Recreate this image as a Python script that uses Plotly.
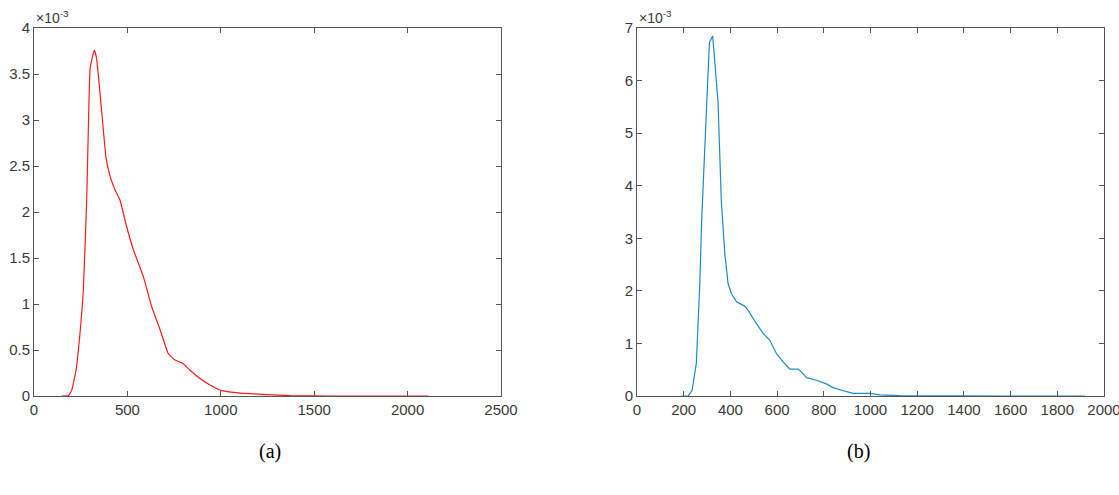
import plotly.graph_objects as go

# Panel (a) – red curve
a_x = [148, 184, 202, 225, 246, 264, 282, 292, 300, 312, 323, 334, 344, 362, 385, 407, 434, 460, 496, 532, 585,
       630, 675, 719, 755, 796, 835, 889, 942, 1005, 1067, 1156, 1246, 1370, 1600, 1900, 2111]
a_y = [0.0, 0.005, 0.065, 0.28, 0.68, 1.15, 2.13, 3.0, 3.55, 3.68, 3.76, 3.68, 3.50, 3.10, 2.60, 2.39, 2.24, 2.13,
       1.84, 1.59, 1.30, 0.97, 0.72, 0.46, 0.39, 0.355, 0.28, 0.19, 0.12, 0.058, 0.04, 0.025,
       0.015, 0.004, 0.0, 0.0, 0.0]

# Panel (b) – blue curve
b_x = [190, 219, 236, 254, 269, 277, 310, 324, 347, 361, 376, 390, 404, 426, 461, 476, 511, 540,
       569, 597, 626, 654, 690, 704, 726, 769, 811, 840, 883, 926, 997, 1040, 1126, 1269, 1600, 1919]
b_y = [0.0, 0.0, 0.11, 0.62, 2.14, 3.35, 6.72, 6.85, 5.6, 3.72, 2.71, 2.14, 1.95, 1.79, 1.71,
       1.63, 1.38, 1.19, 1.06, 0.81, 0.65, 0.51, 0.51, 0.46, 0.35, 0.30, 0.23, 0.16, 0.10, 0.05,
       0.05, 0.02, 0.006, 0.0, 0.0, 0.0]

a_xticks = [0, 500, 1000, 1500, 2000, 2500]
a_yticks = [0, 0.5, 1, 1.5, 2, 2.5, 3, 3.5, 4]
b_xticks = [0, 200, 400, 600, 800, 1000, 1200, 1400, 1600, 1800, 2000]
b_yticks = [0, 1, 2, 3, 4, 5, 6, 7]

captions = ["(a)", "(b)"]

W, H = 1119, 495


def px(x):
    return x / W


def py(y):
    return 1 - y / H


fig = go.Figure()
fig.add_trace(go.Scatter(x=a_x, y=a_y, mode="lines", line=dict(color="#ff1a1a", width=1.2, shape="spline", smoothing=0.4),
                         xaxis="x", yaxis="y", showlegend=False))
fig.add_trace(go.Scatter(x=b_x, y=b_y, mode="lines", line=dict(color="#1f8ac8", width=1.2),
                         xaxis="x2", yaxis="y2", showlegend=False))

FONT = "Liberation Sans Narrow, Arial Narrow, Liberation Sans, Arial"
tickfont = dict(family=FONT, size=15, color="#3a3a3a")
axcommon = dict(showline=True, linecolor="#555555", linewidth=1, mirror="ticks", ticks="inside",
                ticklen=5, tickcolor="#555555", showgrid=False, zeroline=False, tickfont=tickfont,
                automargin=False, ticklabeloverflow="allow")

fig.update_layout(
    width=W, height=H,
    margin=dict(l=0, r=0, t=0, b=0, autoexpand=False),
    paper_bgcolor="white", plot_bgcolor="white",
    xaxis=dict(domain=[px(34), px(501)], range=[0, 2500], tickvals=a_xticks,
               ticktext=[str(v) for v in a_xticks], anchor="y", **axcommon),
    yaxis=dict(domain=[py(396), py(28)], range=[0, 4], tickvals=a_yticks,
               ticktext=[f"{v:g}" for v in a_yticks], anchor="x", **axcommon),
    xaxis2=dict(domain=[px(637), px(1104)], range=[0, 2000], tickvals=b_xticks,
                ticktext=[str(v) for v in b_xticks], anchor="y2", **axcommon),
    yaxis2=dict(domain=[py(396), py(28)], range=[0, 7], tickvals=b_yticks,
                ticktext=[f"{v:g}" for v in b_yticks], anchor="x2", **axcommon),
)

for xpos in [px(34), px(637)]:
    fig.add_annotation(x=xpos, y=py(28), xref="paper", yref="paper", xanchor="left", yanchor="bottom",
                       text="\u00d710<sup>-3</sup>", showarrow=False, yshift=0,
                       font=dict(family=FONT, size=14, color="#3a3a3a"))

for xc, cap in zip([px(270), px(858)], captions):
    fig.add_annotation(x=xc, y=py(451), xref="paper", yref="paper", xanchor="center", yanchor="middle",
                       text=cap, showarrow=False,
                       font=dict(family="Liberation Serif, Times New Roman, serif", size=20, color="black"))

fig.write_html("out.html", config={"displayModeBar": False},
               post_script="document.body.style.margin='0';document.body.style.overflow='hidden';")
